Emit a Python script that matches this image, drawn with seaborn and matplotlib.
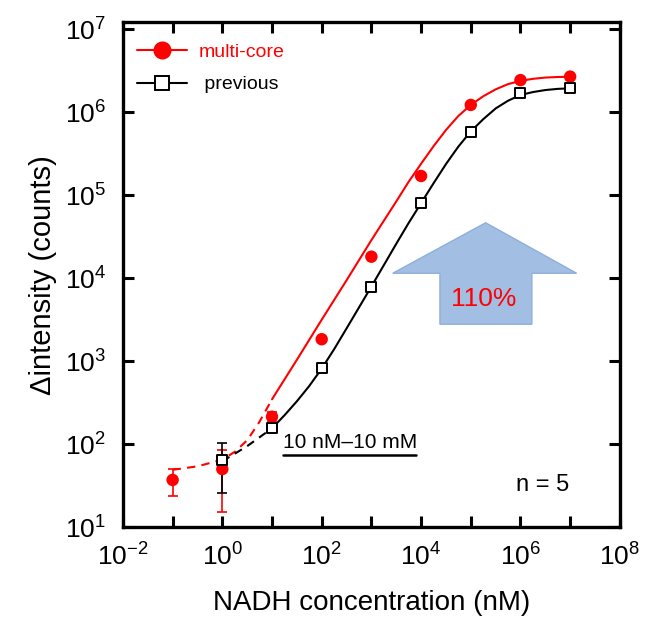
import numpy as np
import pandas as pd
import seaborn as sns
import matplotlib.pyplot as plt
from matplotlib.lines import Line2D
from matplotlib.patches import Polygon

# measured points (NADH in nM, delta intensity in counts)
conc_multi = [0.1, 1, 10, 100, 1e3, 1e4, 1e5, 1e6, 1e7]
int_multi = [37, 50, 214, 1840, 18200, 171000, 1230000, 2450000, 2700000]
err_multi = [13.5, 35, 30, 0, 0, 0, 0, 0, 0]

conc_prev = [1, 10, 100, 1e3, 1e4, 1e5, 1e6, 1e7]
int_prev = [64, 155, 820, 7900, 80000, 586000, 1700000, 1950000]
err_prev = [38, 10, 0, 0, 0, 0, 0, 0]

# fitted curves
fit_conc_multi = [10, 32, 100, 320, 1e3, 3.2e3, 5.6e3, 1e4, 1.8e4, 3.2e4, 5.6e4, 1e5,
                  1.8e5, 3.2e5, 5.6e5, 1e6, 1.8e6, 3.2e6, 5.6e6, 1e7]
fit_multi = [347, 1050, 3160, 9550, 28800, 85100, 145000, 240000, 394000, 617000,
             902000, 1230000, 1570000, 1900000, 2190000, 2400000, 2540000, 2630000,
             2670000, 2690000]
fit_conc_prev = [10, 18, 32, 56, 100, 180, 320, 1e3, 3.2e3, 5.6e3, 1e4, 1.8e4, 3.2e4,
                 5.6e4, 1e5, 1.8e5, 3.2e5, 5.6e5, 1e6, 1.8e6, 3.2e6, 5.6e6, 1e7]
fit_prev = [155, 224, 331, 501, 813, 1410, 2510, 7940, 26300, 46200, 80400, 141000,
            240000, 385000, 589000, 832000, 1120000, 1380000, 1620000, 1760000,
            1860000, 1920000, 1950000]

dash_conc_multi = [0.1, 0.32, 1, 1.8, 3.2, 5.6, 10]
dash_multi = [49, 54, 65, 81, 112, 186, 347]
dash_conc_prev = [1, 3.2, 10]
dash_prev = [62, 95, 155]

sns.set_style("ticks")
plt.rcParams['font.family'] = ['Liberation Sans', 'DejaVu Sans']
plt.rcParams['mathtext.default'] = 'regular'
for key in ['text.color', 'axes.labelcolor', 'xtick.color', 'ytick.color',
            'xtick.labelcolor', 'ytick.labelcolor']:
    plt.rcParams[key] = 'black'

fig = plt.figure(figsize=(6.47, 6.35), dpi=100)
ax = fig.add_axes([0.190, 0.170, 0.768, 0.7946])

red = '#ff0000'

# fit lines
sns.lineplot(x=fit_conc_multi, y=fit_multi, ax=ax, color=red, lw=1.5, estimator=None, sort=False, zorder=2)
sns.lineplot(x=fit_conc_prev, y=fit_prev, ax=ax, color='black', lw=1.5, estimator=None, sort=False, zorder=2)
sns.lineplot(x=dash_conc_multi, y=dash_multi, ax=ax, color=red, lw=1.5, linestyle=(0, (4, 3)),
             estimator=None, sort=False, zorder=2)
sns.lineplot(x=dash_conc_prev, y=dash_prev, ax=ax, color='black', lw=1.5, linestyle=(0, (4, 3)),
             estimator=None, sort=False, zorder=2)

# error bars
ax.errorbar(conc_multi, int_multi, yerr=err_multi, fmt='none', ecolor=red, elinewidth=1.2,
            capsize=3.5, capthick=1.2, zorder=3)
ax.errorbar(conc_prev, int_prev, yerr=err_prev, fmt='none', ecolor='black', elinewidth=1.2,
            capsize=3.5, capthick=1.2, zorder=3)

# points
df_m = pd.DataFrame({'conc': conc_multi, 'val': int_multi})
df_p = pd.DataFrame({'conc': conc_prev, 'val': int_prev})
sns.scatterplot(data=df_m, x='conc', y='val', ax=ax, color=red, s=80, edgecolor='none', zorder=4)
sns.scatterplot(data=df_p, x='conc', y='val', ax=ax, marker='s', facecolor='white',
                edgecolor='black', linewidth=1.4, s=50, zorder=5)

ax.set_xscale('log')
ax.set_yscale('log')
ax.set_xlim(1e-2, 1e8)
ax.set_ylim(10, 10 ** 7.084)

ax.set_xticks([10.0 ** k for k in range(-2, 9)])
ax.set_xticklabels(['$10^{%d}$' % k if k % 2 == 0 else '' for k in range(-2, 9)])
ax.set_yticks([10.0 ** k for k in range(1, 8)])
ax.set_yticklabels(['$10^{%d}$' % k for k in range(1, 8)])
ax.minorticks_off()
ax.tick_params(which='major', direction='in', length=8, width=2.2, labelsize=19,
               top=True, right=True, pad=12, color='black')
for sp in ax.spines.values():
    sp.set_linewidth(2.4)
    sp.set_color('black')

ax.set_xlabel('NADH concentration (nM)', fontsize=20, labelpad=14)
ax.set_ylabel('\u0394intensity (counts)', fontsize=21, labelpad=6)

# arrow
arrow = Polygon([(0.730, 0.603), (0.913, 0.503), (0.823, 0.503), (0.823, 0.402),
                 (0.638, 0.402), (0.638, 0.503), (0.543, 0.503)],
                closed=True, transform=ax.transAxes, facecolor='#a2bfe3',
                edgecolor='#8eafdb', lw=1, zorder=1)
ax.add_patch(arrow)
ax.text(0.726, 0.452, '110%', transform=ax.transAxes, color=red, fontsize=19,
        ha='center', va='center', zorder=6)

ax.text(0.322, 0.168, '10 nM\u201310 mM', transform=ax.transAxes, fontsize=15,
        ha='left', va='center')
ax.plot([0.322, 0.590], [0.143, 0.143], transform=ax.transAxes, color='black', lw=1.8)
ax.text(0.845, 0.083, 'n = 5', transform=ax.transAxes, fontsize=17, ha='center', va='center')

handles = [Line2D([], [], color=red, lw=1.5, marker='o', markersize=12, markeredgecolor=red),
           Line2D([], [], color='black', lw=1.5, marker='s', markersize=10,
                  markerfacecolor='white', markeredgecolor='black', markeredgewidth=1.4)]
leg = ax.legend(handles, ['multi-core', ' previous'], loc='upper left',
                bbox_to_anchor=(0.0, 0.985), frameon=False, fontsize=14,
                handlelength=2.6, handletextpad=0.6, labelspacing=0.75,
                borderaxespad=0.3)
leg.get_texts()[0].set_color(red)

fig.savefig('out.png', dpi=100)
